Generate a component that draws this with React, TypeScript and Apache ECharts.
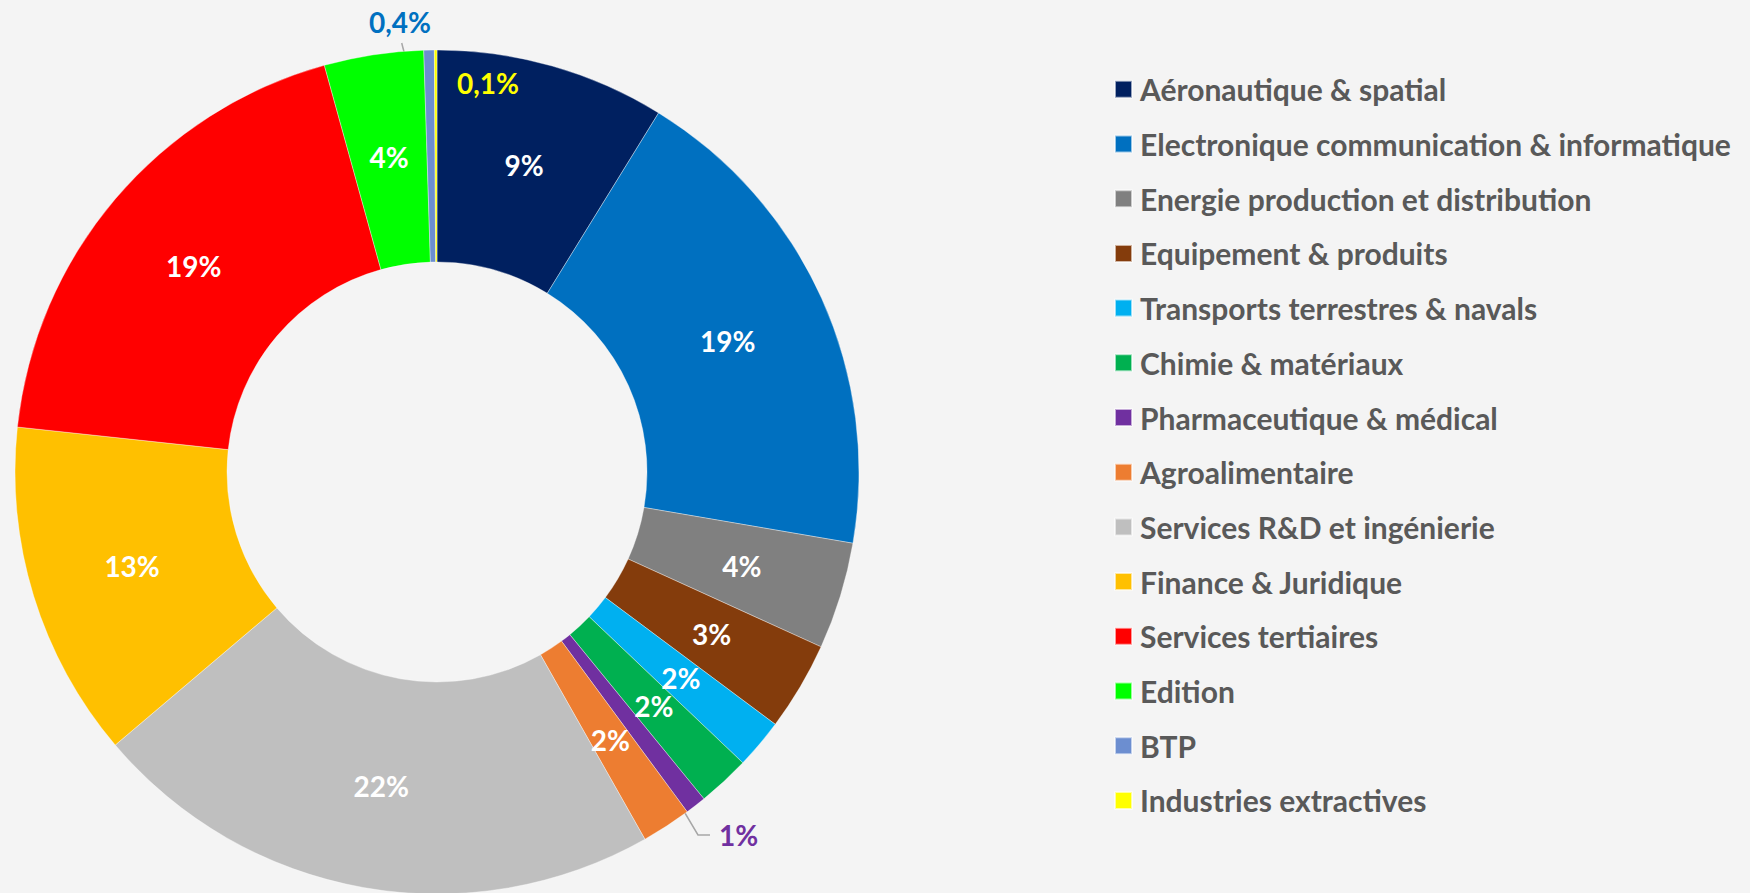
import React, { useEffect, useRef } from "react";
import * as echarts from "echarts";

const categories = [
  "Aéronautique & spatial",
  "Electronique communication & informatique",
  "Energie production et distribution",
  "Equipement & produits",
  "Transports terrestres & navals",
  "Chimie & matériaux",
  "Pharmaceutique & médical",
  "Agroalimentaire",
  "Services R&D et ingénierie",
  "Finance & Juridique",
  "Services tertiaires",
  "Edition",
  "BTP",
  "Industries extractives",
];

const shares = [8.8, 18.9, 4.1, 3.4, 1.9, 2.0, 0.8, 1.9, 22.0, 12.9, 19.0, 3.8, 0.4, 0.1];

const colors = [
  "#002060",
  "#0070C0",
  "#808080",
  "#843C0C",
  "#00B0F0",
  "#00B050",
  "#7030A0",
  "#ED7D31",
  "#BFBFBF",
  "#FFC000",
  "#FF0000",
  "#00FF00",
  "#6C8ED0",
  "#FFFF00",
];

const CX = 437;
const CY = 472;
const R_IN = 210;
const R_OUT = 422;
const FONT = "Lato";
const LEGEND_FONT = 30;
const ROW = 54.7;

// callout labels for thin slices: label anchor and leader-line waypoints
const callouts: Record<number, { color: string; x: number; y: number; align: string; via: number[][] }> = {
  6: { color: "#7030A0", x: 719, y: 835, align: "left", via: [[698, 835], [710, 835]] },
  12: { color: "#0070C0", x: 400, y: 22, align: "center", via: [[401.7, 43], [401.7, 43]] },
  13: { color: "#FFFF00", x: 457, y: 83, align: "left", via: [[437.3, 82.3], [449, 82.3]] },
};

function ringMid(idx: number): number[] {
  const total = shares.reduce((a, b) => a + b, 0);
  let cum = 0;
  for (let i = 0; i < idx; i++) cum += shares[i];
  const mid = ((cum + shares[idx] / 2) / total) * Math.PI * 2;
  const r = (R_IN + R_OUT) / 2;
  return [CX + r * Math.sin(mid), CY - r * Math.cos(mid)];
}

function fmt(v: number): string {
  if (v < 0.5) return v.toFixed(1).replace(".", ",") + "%";
  return Math.round(v) + "%";
}

export default function App() {
  const ref = useRef<HTMLDivElement>(null);

  useEffect(() => {
    document.body.style.margin = "0";
    document.body.style.background = "#F4F4F4";
    const chart = echarts.init(ref.current!, null, { renderer: "svg" });
    const data = categories.map((name, i) => {
      const c = callouts[i];
      const item: any = { name, value: shares[i], itemStyle: { color: colors[i] } };
      if (c) {
        item.label = { position: "outside", color: c.color };
        item.labelLine = { show: true, lineStyle: { color: "#A6A6A6", width: 1.5 } };
      }
      return item;
    });
    chart.setOption({
      animation: false,
      backgroundColor: "#F4F4F4",
      legend: {
        orient: "vertical",
        left: 1114,
        top: 89.3 - LEGEND_FONT / 2,
        padding: 0,
        itemWidth: 17,
        itemHeight: 17,
        itemGap: ROW - LEGEND_FONT,
        icon: "rect",
        selectedMode: false,
        data: categories,
        textStyle: {
          color: "#595959",
          fontFamily: FONT,
          fontWeight: "bold",
          fontSize: LEGEND_FONT,
          padding: [0, 0, 0, 3],
        },
      },
      series: [
        {
          type: "pie",
          center: [CX, CY],
          radius: [R_IN, R_OUT],
          startAngle: 90,
          clockwise: true,
          avoidLabelOverlap: false,
          itemStyle: { borderColor: "rgba(255,255,255,0.6)", borderWidth: 0.6 },
          label: {
            show: true,
            position: "inside",
            color: "#FFFFFF",
            fontFamily: FONT,
            fontWeight: "bold",
            fontSize: 28,
            formatter: (p: any) => fmt(p.value),
          },
          labelLine: { show: false },
          labelLayout: (params: any) => {
            const c = callouts[params.dataIndex];
            if (!c) return {};
            const start = ringMid(params.dataIndex);
            return {
              x: c.x,
              y: c.y,
              align: c.align,
              verticalAlign: "middle",
              labelLinePoints: [start, c.via[0], c.via[1]],
            };
          },
          emphasis: { disabled: true },
          data,
        },
      ],
    });
    return () => chart.dispose();
  }, []);

  return <div ref={ref} style={{ width: 1750, height: 893, background: "#F4F4F4" }} />;
}
